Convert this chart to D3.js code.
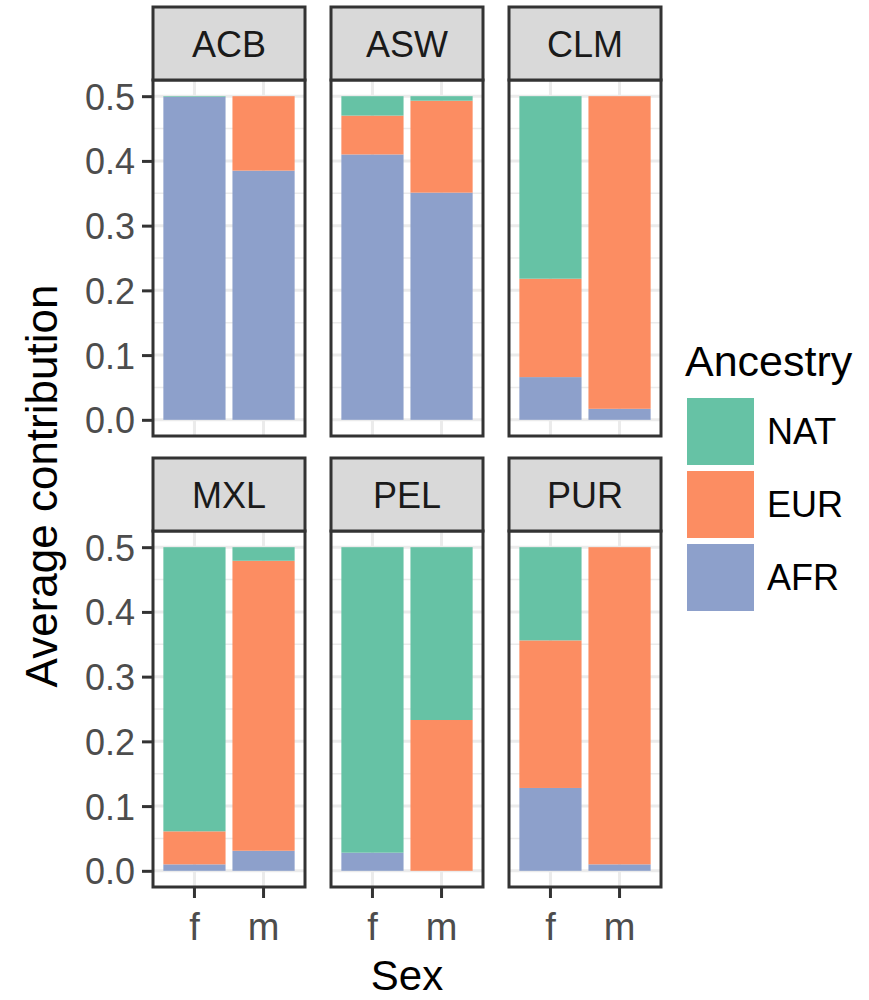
<!DOCTYPE html>
<html lang="en">
<head>
  <meta charset="UTF-8">
  <script src="https://d3js.org/d3.v7.min.js"></script>
  <title>Average contribution by sex</title>
  <style>
    body { margin: 0; background: #fff; }
    text { font-family: "Liberation Sans", Arial, sans-serif; }
  </style>
</head>
<body>
  <div id="chart"></div>
  <script>
    const populations = ['ACB', 'ASW', 'CLM', 'MXL', 'PEL', 'PUR'];
    const sexes = ['f', 'm'];
    const ancestries = ['NAT', 'EUR', 'AFR'];
    const stackOrder = ['AFR', 'EUR', 'NAT'];
    const ancestryColors = ['#66C2A5', '#FC8D62', '#8DA0CB'];

    // one value per population and sex: ACB f, ACB m, ASW f, ASW m, ...
    const afrValues = [0.499, 0.385, 0.410, 0.351, 0.066, 0.017, 0.010, 0.031, 0.028, 0.000, 0.128, 0.010];
    const eurValues = [0.000, 0.115, 0.060, 0.142, 0.152, 0.483, 0.051, 0.448, 0.000, 0.233, 0.228, 0.490];
    const natValues = [0.001, 0.000, 0.030, 0.007, 0.282, 0.000, 0.439, 0.021, 0.472, 0.267, 0.144, 0.000];

    const yTicks = [0, 0.1, 0.2, 0.3, 0.4, 0.5];
    const yMinor = [0.05, 0.15, 0.25, 0.35, 0.45];

    const rows = populations.map((p, i) => {
      return sexes.map((s, j) => ({
        pop: p, sex: s,
        AFR: afrValues[i * 2 + j], EUR: eurValues[i * 2 + j], NAT: natValues[i * 2 + j]
      }));
    }).flat();

    const width = 869, height = 1000;
    const panelW = 152, panelH = 356, gapX = 26, rowStep = 451;
    const stripH = 73;
    const marginLeft = 153, marginTop = 7;

    const color = d3.scaleOrdinal().domain(ancestries).range(ancestryColors);
    const x = d3.scaleBand().domain(sexes).range([0, panelW]).paddingInner(0.1).paddingOuter(0.15);
    const y = d3.scaleLinear().domain([-0.025, 0.525]).range([panelH, 0]);
    const stack = d3.stack().keys(stackOrder);

    const svg = d3.select('#chart').append('svg').attr('width', width).attr('height', height);

    populations.forEach((pop, i) => {
      const col = i % 3, row = Math.floor(i / 3);
      const px = marginLeft + col * (panelW + gapX);
      const sy = marginTop + row * rowStep;
      const py = sy + stripH;
      const g = svg.append('g').attr('transform', `translate(${px},${py})`);

      // grid
      g.selectAll('.minor').data(yMinor).join('line').attr('class', 'minor')
        .attr('x1', 0).attr('x2', panelW).attr('y1', d => y(d)).attr('y2', d => y(d))
        .attr('stroke', '#EBEBEB').attr('stroke-width', 1.5);
      g.selectAll('.major').data(yTicks).join('line').attr('class', 'major')
        .attr('x1', 0).attr('x2', panelW).attr('y1', d => y(d)).attr('y2', d => y(d))
        .attr('stroke', '#EBEBEB').attr('stroke-width', 3);
      g.selectAll('.vmajor').data(sexes).join('line').attr('class', 'vmajor')
        .attr('x1', d => x(d) + x.bandwidth() / 2).attr('x2', d => x(d) + x.bandwidth() / 2)
        .attr('y1', 0).attr('y2', panelH)
        .attr('stroke', '#EBEBEB').attr('stroke-width', 3);

      // bars
      const series = stack(rows.filter(r => r.pop === pop));
      g.selectAll('g.layer').data(series).join('g').attr('class', 'layer')
        .attr('fill', d => color(d.key))
        .selectAll('rect').data(d => d).join('rect')
        .attr('x', d => x(d.data.sex))
        .attr('width', x.bandwidth())
        .attr('y', d => y(d[1]))
        .attr('height', d => y(d[0]) - y(d[1]));

      // panel border
      g.append('rect').attr('width', panelW).attr('height', panelH)
        .attr('fill', 'none').attr('stroke', '#333333').attr('stroke-width', 3);

      // strip
      const strip = svg.append('g').attr('transform', `translate(${px},${sy})`);
      strip.append('rect').attr('width', panelW).attr('height', stripH)
        .attr('fill', '#D9D9D9').attr('stroke', '#333333').attr('stroke-width', 3);
      strip.append('text').attr('x', panelW / 2).attr('y', stripH / 2 + 13)
        .attr('text-anchor', 'middle').attr('font-size', 36).attr('fill', '#1A1A1A').text(pop);

      // axes
      if (col === 0) {
        const ya = g.append('g').call(d3.axisLeft(y).tickValues(yTicks).tickFormat(d3.format('.1f')).tickSize(11).tickPadding(7));
        ya.select('.domain').remove();
        ya.selectAll('line').attr('stroke', '#333333').attr('stroke-width', 3);
        ya.selectAll('text').attr('font-size', 36).attr('fill', '#4D4D4D').attr('dy', '0.36em')
          .style('font-family', '"Liberation Sans", Arial, sans-serif');
      }
      if (row === 1) {
        const xa = g.append('g').attr('transform', `translate(0,${panelH})`)
          .call(d3.axisBottom(x).tickSize(11).tickPadding(15));
        xa.select('.domain').remove();
        xa.selectAll('line').attr('stroke', '#333333').attr('stroke-width', 3);
        xa.selectAll('text').attr('font-size', 38).attr('fill', '#4D4D4D')
          .style('font-family', '"Liberation Sans", Arial, sans-serif');
      }
    });

    // axis titles
    svg.append('text').attr('x', marginLeft + (3 * panelW + 2 * gapX) / 2).attr('y', 990)
      .attr('text-anchor', 'middle').attr('font-size', 42).attr('fill', '#000').text('Sex');
    svg.append('text').attr('transform', 'translate(57,486) rotate(-90)')
      .attr('text-anchor', 'middle').attr('font-size', 44).attr('fill', '#000').text('Average contribution');

    // legend
    const legend = svg.append('g').attr('transform', 'translate(687,398)');
    legend.append('text').attr('x', -2).attr('y', -22).attr('font-size', 43).attr('fill', '#000').text('Ancestry');
    const items = legend.selectAll('g.item').data(ancestries).join('g').attr('class', 'item')
      .attr('transform', (d, i) => `translate(0,${i * 73})`);
    items.append('rect').attr('width', 67).attr('height', 67).attr('fill', d => color(d));
    items.append('text').attr('x', 80).attr('y', 33.5).attr('dy', '0.36em')
      .attr('font-size', 36).attr('fill', '#000').text(d => d);
  </script>
</body>
</html>
